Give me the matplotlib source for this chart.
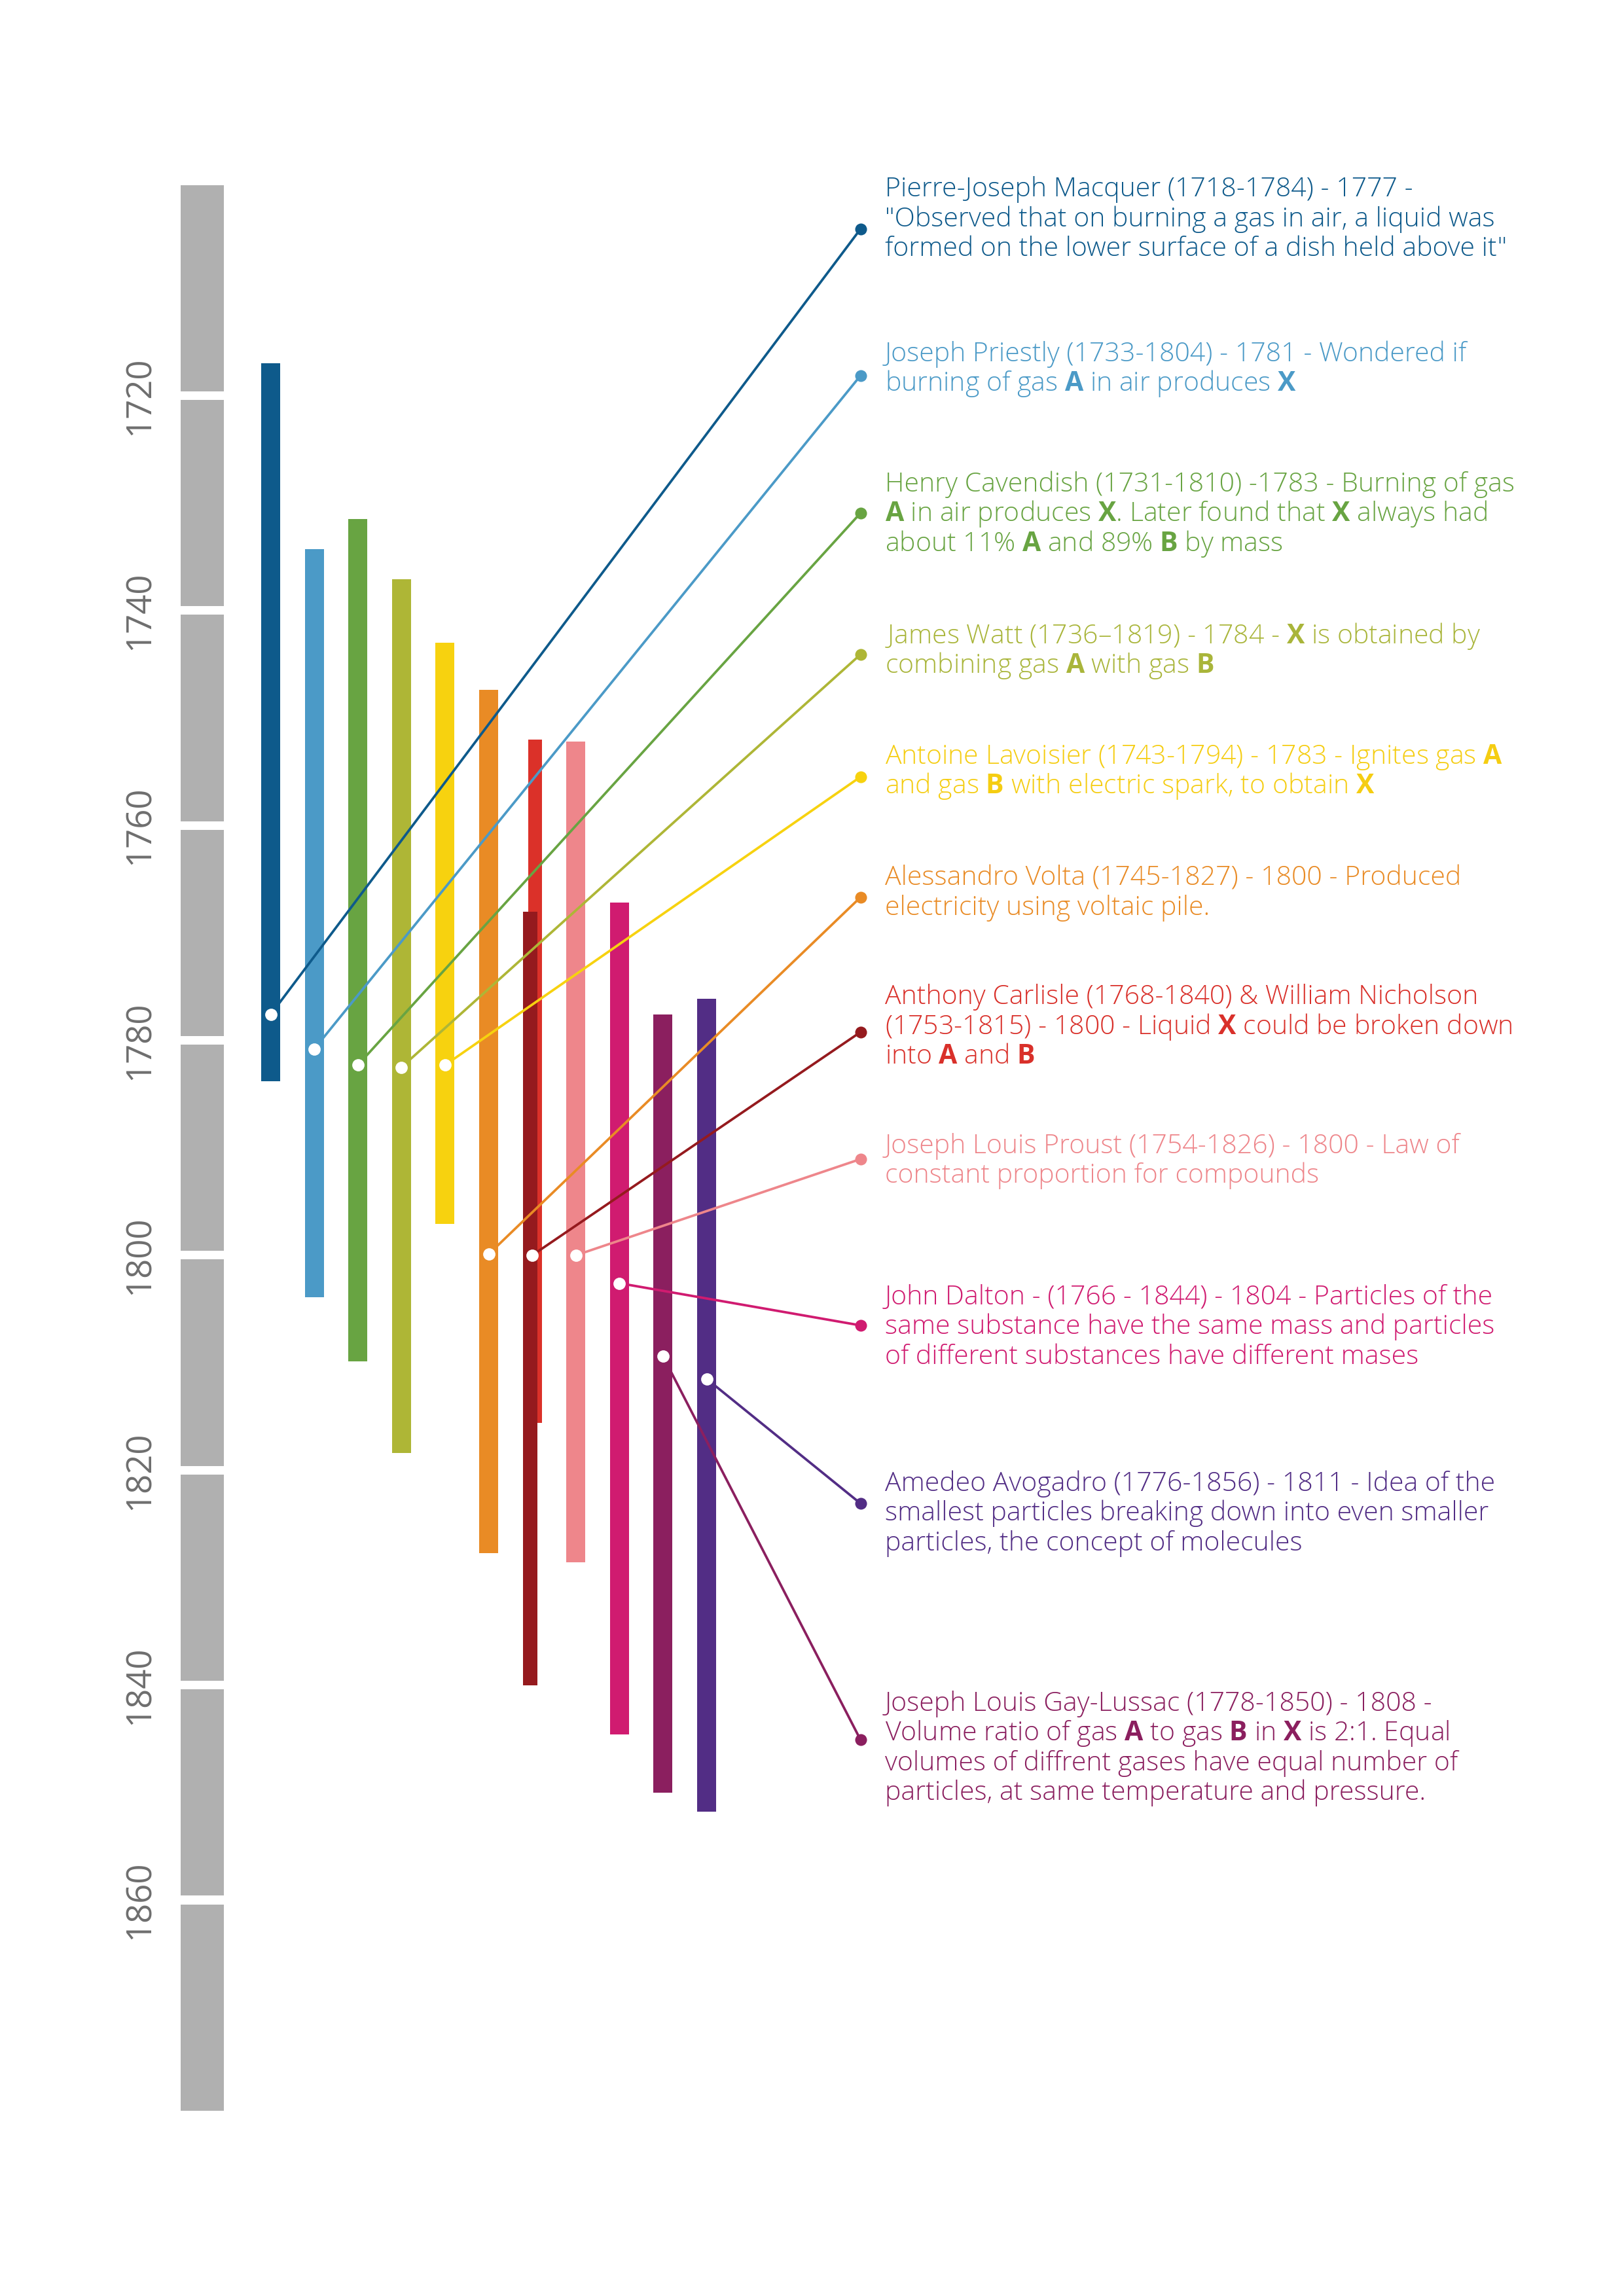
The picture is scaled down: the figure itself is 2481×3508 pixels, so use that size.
import matplotlib
matplotlib.use('Agg')
import matplotlib.pyplot as plt

plt.rcParams['font.family'] = ['Open Sans', 'DejaVu Sans']
plt.rcParams['mathtext.fontset'] = 'custom'
plt.rcParams['mathtext.rm'] = 'Open Sans'
plt.rcParams['mathtext.bf'] = 'Open Sans:bold'

# --- data ------------------------------------------------------------------
# life spans as drawn (years); Carlisle and Nicholson share one column
bar_names = ['Macquer', 'Priestly', 'Cavendish', 'Watt', 'Lavoisier', 'Volta',
             'Nicholson', 'Carlisle', 'Proust', 'Dalton', 'Gay-Lussac', 'Avogadro']
bar_start = [1717.0, 1734.3, 1731.5, 1737.1, 1743.0, 1747.4,
             1752.0, 1768.0, 1752.2, 1767.2, 1777.6, 1776.1]
bar_end = [1783.8, 1803.9, 1809.9, 1818.4, 1797.1, 1827.7,
           1815.6, 1840.0, 1828.6, 1844.6, 1850.0, 1851.8]
bar_colors = ['#0e5a8b', '#4b9ac7', '#68a442', '#aeb636', '#f7d20f', '#e98b25',
              '#db3129', '#951a1e', '#ee868b', '#d01b70', '#8b1f5f', '#522d85']
bar_col = [0, 1, 2, 3, 4, 5, 6, 6, 7, 8, 9, 10]

# the discovery year marked on each bar (white dot)
event_names = ['Macquer', 'Priestly', 'Cavendish', 'Watt', 'Lavoisier', 'Volta',
               'Carlisle', 'Proust', 'Dalton', 'Gay-Lussac', 'Avogadro']
event_year = [1777.6, 1780.8, 1782.3, 1782.5, 1782.3, 1799.9,
              1800.0, 1800.0, 1802.6, 1809.4, 1811.5]
event_col = [0, 1, 2, 3, 4, 5, 6, 7, 8, 9, 10]
line_colors = ['#0e5a8b', '#4b9ac7', '#68a442', '#aeb636', '#f7d20f', '#e98b25',
               '#951a1e', '#ee868b', '#d01b70', '#8b1f5f', '#522d85']
text_colors = ['#0e5a8b', '#4b9ac7', '#68a442', '#a9b53a', '#f5cd12', '#e98b25',
               '#d9302a', '#ee868b', '#d01b70', '#8b1f5f', '#522d85']

labels = [
    ['Pierre-Joseph Macquer (1718-1784) - 1777 -',
     '"Observed that on burning a gas in air, a liquid was',
     'formed on the lower surface of a dish held above it"'],
    ['Joseph Priestly (1733-1804) - 1781 - Wondered if',
     r'burning of gas $\mathbf{A}$ in air produces $\mathbf{X}$'],
    ['Henry Cavendish (1731-1810) -1783 - Burning of gas',
     r'$\mathbf{A}$ in air produces $\mathbf{X}$. Later found that $\mathbf{X}$ always had',
     r'about 11% $\mathbf{A}$ and 89% $\mathbf{B}$ by mass'],
    [r'James Watt (1736–1819) - 1784 - $\mathbf{X}$ is obtained by',
     r'combining gas $\mathbf{A}$ with gas $\mathbf{B}$'],
    [r'Antoine Lavoisier (1743-1794) - 1783 - Ignites gas $\mathbf{A}$',
     r'and gas $\mathbf{B}$ with electric spark, to obtain $\mathbf{X}$'],
    ['Alessandro Volta (1745-1827) - 1800 - Produced',
     'electricity using voltaic pile.'],
    ['Anthony Carlisle (1768-1840) & William Nicholson',
     r'(1753-1815) - 1800 - Liquid $\mathbf{X}$ could be broken down',
     r'into $\mathbf{A}$ and $\mathbf{B}$'],
    ['Joseph Louis Proust (1754-1826) - 1800 - Law of',
     'constant proportion for compounds'],
    ['John Dalton - (1766 - 1844) - 1804 - Particles of the',
     'same substance have the same mass and particles',
     'of different substances have different mases'],
    ['Joseph Louis Gay-Lussac (1778-1850) - 1808 -',
     r'Volume ratio of gas $\mathbf{A}$ to gas $\mathbf{B}$ in $\mathbf{X}$ is 2:1. Equal',
     'volumes of diffrent gases have equal number of',
     'particles, at same temperature and pressure.'],
    ['Amedeo Avogadro (1776-1856) - 1811 - Idea of the',
     'smallest particles breaking down into even smaller',
     'particles, the concept of molecules'],
]

year_ticks = [1720, 1740, 1760, 1780, 1800, 1820, 1840, 1860]
scale_edges = list(range(1700, 1881, 20))

# --- layout (pixels of the 2481 x 3508 page) -------------------------------
W, H = 2481, 3508
PX_PER_YEAR = 16.418
Y_TOP = 1700 - 276.1 / PX_PER_YEAR
Y_BOT = Y_TOP + H / PX_PER_YEAR


def px2yr(p):
    return Y_TOP + p / PX_PER_YEAR


COL_X0, COL_DX = 413.5, 66.6
bar_shift = [0, 0, 0, 0, 0, 0, 4.5, -3, 0, 0, 0, 0]
bar_width = [29, 29, 29, 29, 29, 29, 21, 22, 29, 29, 29, 29]
label_top_px = [286, 538, 737, 969, 1153, 1339, 1520, 1748, 1979, 2600, 2264]
end_px = [350, 574, 784, 1000, 1187, 1371, 1577, 1771, 2025, 2658, 2297]
END_X = 1314.5
TEXT_X = 1352
LINE_GAP = 45.5

fig = plt.figure(figsize=(W / 100, H / 100), dpi=100)
ax = fig.add_axes([0, 0, 1, 1])
ax.set_xlim(0, W)
ax.set_ylim(Y_BOT, Y_TOP)
ax.axis('off')

# grey time scale
for y0, y1 in zip(scale_edges[:-1], scale_edges[1:]):
    ax.bar(309, (y1 - y0) - 0.8, bottom=y0 + 0.4, width=66,
           color='#b0b0b0', linewidth=0, zorder=1)
for yr in year_ticks:
    ax.text(214, yr, str(yr), rotation=90, ha='center', va='center',
            fontsize=38, color='#6e6e6e')

# life-span bars
for i in range(len(bar_names)):
    x = COL_X0 + COL_DX * bar_col[i] + bar_shift[i]
    ax.bar(x, bar_end[i] - bar_start[i], bottom=bar_start[i], width=bar_width[i],
           color=bar_colors[i], linewidth=0, zorder=2)

# connectors, dots and labels
for i in range(len(event_names)):
    x = COL_X0 + COL_DX * event_col[i]
    ye = px2yr(end_px[i])
    ax.plot([x, END_X], [event_year[i], ye], color=line_colors[i], lw=2.7,
            solid_capstyle='round', zorder=3)
    ax.plot(END_X, ye, 'o', ms=13, color=line_colors[i], mec='none', zorder=4)
    ax.plot(x, event_year[i], 'o', ms=13.5, color='white', mec='none', zorder=5)
    for j, line in enumerate(labels[i]):
        ax.text(TEXT_X, px2yr(label_top_px[i] + j * LINE_GAP + 14), line,
                ha='left', va='baseline', fontsize=29.5, fontweight='light',
                color=text_colors[i])

fig.savefig('out.png', dpi=100, facecolor='white')
